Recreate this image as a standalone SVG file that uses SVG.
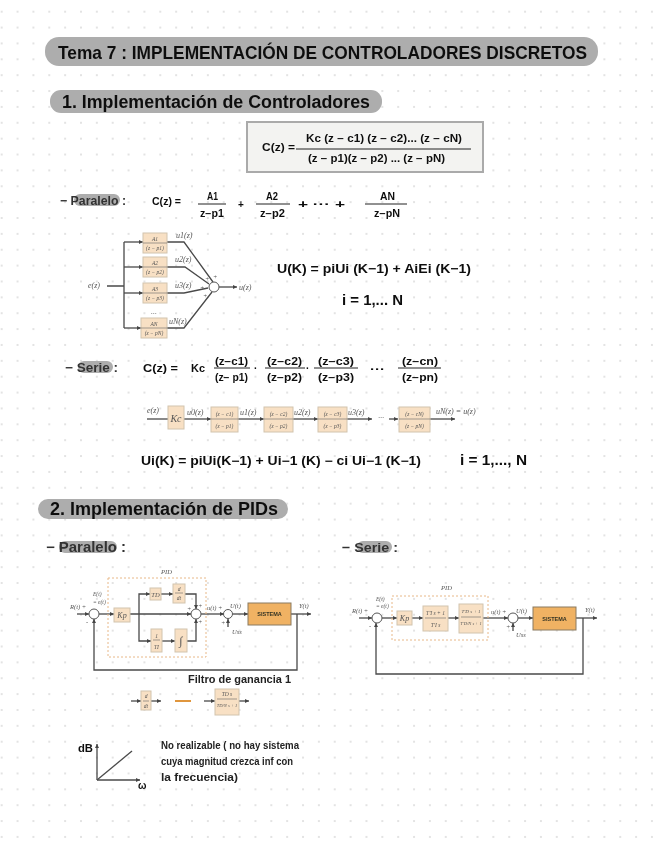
<svg xmlns="http://www.w3.org/2000/svg" width="656" height="848" viewBox="0 0 656 848">
<style>
.h{font-family:"Liberation Sans",sans-serif;fill:#111;font-weight:700}
.t{font-size:18.5px}
.s{font-size:18px}
.m{font-size:10px}
.g{font-size:10px;fill:#222}
.p{font-size:12.5px;fill:#333}
.l{font-family:"Liberation Serif",serif;font-style:italic;font-size:8px;fill:#555}
.e{font-family:"Liberation Serif",serif;font-style:italic;font-size:6.5px;fill:#555}
.b{font-family:"Liberation Serif",serif;font-style:italic;font-size:5.5px;fill:#555;text-anchor:middle}
.bx{fill:#f8e0c4;stroke:#d2c4ae;stroke-width:1}
.c{fill:none;stroke:#4a4a4a;stroke-width:1.3}
.k{fill:none;stroke:#222;stroke-width:1}
.hl{fill:#adadad}
.pn{fill:none;stroke:#666;stroke-width:.6}
.sys{fill:#f0b264;stroke:#8a7a60;stroke-width:1}
.dash{fill:none;stroke:#e8b888;stroke-width:1;stroke-dasharray:2 2}
.ss{font-family:"Liberation Sans",sans-serif;font-weight:700;font-size:5.5px;fill:#332;text-anchor:middle}
</style>
<defs>
<pattern id="dots" x="0.7" y="10.7" width="15.86" height="15.87" patternUnits="userSpaceOnUse"><circle cx="1" cy="1" r="1" fill="#dadada"/></pattern>
<marker id="a" markerWidth="6" markerHeight="6" refX="4" refY="2" orient="auto" markerUnits="userSpaceOnUse"><path d="M0 0L4 2L0 4z" fill="#444"/></marker>
<filter id="bl" x="0" y="0" width="656" height="848" filterUnits="userSpaceOnUse"><feGaussianBlur stdDeviation="0.55"/></filter>
</defs>
<rect width="656" height="848" fill="#fff"/>
<rect width="656" height="848" fill="url(#dots)"/>
<g filter="url(#bl)">
<g id="title"><rect class="hl" x="45" y="37" width="553" height="29" rx="14"/>
<text class="h t" x="58" y="59" textLength="529" lengthAdjust="spacingAndGlyphs">Tema 7 : IMPLEMENTACIÓN DE CONTROLADORES DISCRETOS</text></g>
<g id="section1"><rect class="hl" x="50" y="90" width="332" height="23" rx="11"/>
<text class="h s" x="62" y="108" textLength="308" lengthAdjust="spacingAndGlyphs">1. Implementación de Controladores</text></g>
<g id="formula"><rect x="247" y="122" width="236" height="50" fill="#f3f3f1" stroke="#aaa" stroke-width="2"/>
<text class="h m" x="262" y="151" textLength="33" lengthAdjust="spacingAndGlyphs">C(z) =</text>
<text class="h m" x="306" y="142" textLength="156" lengthAdjust="spacingAndGlyphs">Kc (z − c1) (z − c2)... (z − cN)</text>
<line class="k" x1="296" y1="149" x2="471" y2="149"/>
<text class="h m" x="308" y="162" textLength="137" lengthAdjust="spacingAndGlyphs">(z − p1)(z − p2) ... (z − pN)</text></g>
<g id="paralelo1"><rect class="hl" x="74" y="194" width="46" height="12" rx="6"/>
<text class="h p" x="60" y="204.500" textLength="66" lengthAdjust="spacingAndGlyphs">− Paralelo :</text></g>
<g id="eq-parallel">
<text class="h m" x="152" y="205" textLength="29" lengthAdjust="spacingAndGlyphs">C(z) =</text>
<text class="h m" x="207" y="200" textLength="11" lengthAdjust="spacingAndGlyphs">A1</text>
<line class="k" x1="198" y1="204" x2="226" y2="204"/>
<text class="h m" x="200" y="217" textLength="24" lengthAdjust="spacingAndGlyphs">z−p1</text>
<text class="h m" x="238" y="208">+</text>
<text class="h m" x="266" y="200" textLength="12" lengthAdjust="spacingAndGlyphs">A2</text>
<line class="k" x1="256" y1="204" x2="290" y2="204"/>
<text class="h m" x="260" y="217" textLength="25" lengthAdjust="spacingAndGlyphs">z−p2</text>
<text class="h m" x="298" y="208" textLength="47" lengthAdjust="spacingAndGlyphs">+ ··· +</text>
<text class="h m" x="380" y="200" textLength="15" lengthAdjust="spacingAndGlyphs">AN</text>
<line class="k" x1="365" y1="204" x2="407" y2="204"/>
<text class="h m" x="374" y="217" textLength="26" lengthAdjust="spacingAndGlyphs">z−pN</text></g>
<g id="connectors">
<path class="c" d="M107 286H124M124 242V328"/>
<path class="c" marker-end="url(#a)" d="M124 242H143"/><path class="c" marker-end="url(#a)" d="M124 267H143"/><path class="c" marker-end="url(#a)" d="M124 293H143"/><path class="c" marker-end="url(#a)" d="M124 328H141"/>
<path class="c" d="M167 242H184L213 282"/><path class="c" d="M167 267H185L209 284"/><path class="c" d="M167 293H184L208 288"/><path class="c" d="M167 328H184L212 292"/>
<path class="c" marker-end="url(#a)" d="M219 287H237"/>
<path class="c" d="M147 419H168"/><path class="c" marker-end="url(#a)" d="M184 419H211"/><path class="c" marker-end="url(#a)" d="M238 419H264"/><path class="c" marker-end="url(#a)" d="M293 419H318"/><path class="c" marker-end="url(#a)" d="M347 419H372"/><path class="c" marker-end="url(#a)" d="M389 419H398"/><path class="c" marker-end="url(#a)" d="M430 419H455"/>
<path class="c" marker-end="url(#a)" d="M77 614H89"/><path class="c" marker-end="url(#a)" d="M99 614H114"/><path class="c" marker-end="url(#a)" d="M130 614H191"/>
<path class="c" marker-end="url(#a)" d="M139 614V594H150"/><path class="c" marker-end="url(#a)" d="M161 594H173"/><path class="c" marker-end="url(#a)" d="M185 594H196V609"/>
<path class="c" marker-end="url(#a)" d="M139 614V641H151"/><path class="c" marker-end="url(#a)" d="M162 641H175"/><path class="c" marker-end="url(#a)" d="M187 641H196V619"/>
<path class="c" marker-end="url(#a)" d="M201 614H224"/><path class="c" marker-end="url(#a)" d="M233 614H248"/><path class="c" marker-end="url(#a)" d="M291 614H311"/>
<path class="c" marker-end="url(#a)" d="M297 614V670H94V619"/><path class="c" marker-end="url(#a)" d="M228 627V619"/>
<path class="c" marker-end="url(#a)" d="M359 618H372"/><path class="c" marker-end="url(#a)" d="M382 618H397"/><path class="c" marker-end="url(#a)" d="M412 618H423"/><path class="c" marker-end="url(#a)" d="M448 618H459"/><path class="c" marker-end="url(#a)" d="M483 618H508"/><path class="c" marker-end="url(#a)" d="M518 618H533"/><path class="c" marker-end="url(#a)" d="M576 618H597"/>
<path class="c" marker-end="url(#a)" d="M583 618V674H376V623"/><path class="c" marker-end="url(#a)" d="M513 631V623"/>
<path class="c" marker-end="url(#a)" d="M131 701H141"/><path class="c" marker-end="url(#a)" d="M151 701H161"/><path class="c" marker-end="url(#a)" d="M204 701H215"/><path class="c" marker-end="url(#a)" d="M239 701H249"/>
<path d="M175 701H191" fill="none" stroke="#e0963c" stroke-width="2"/>
<path d="M97 780V744" class="c" marker-end="url(#a)"/><path d="M97 780H140" class="c" marker-end="url(#a)"/><path d="M97 780L132 751" class="c"/>
</g>
<g id="par-blocks">
<g id="p1"><rect class="bx" x="143" y="233" width="24" height="20"/><line class="pn" x1="143" y1="243" x2="167" y2="243"/><text class="b" x="155" y="241">A1</text><text class="b" x="155" y="250">(z − p1)</text></g>
<g id="p2"><rect class="bx" x="143" y="257" width="24" height="20"/><line class="pn" x1="143" y1="267" x2="167" y2="267"/><text class="b" x="155" y="265">A2</text><text class="b" x="155" y="274">(z − p2)</text></g>
<g id="p3"><rect class="bx" x="143" y="283" width="24" height="20"/><line class="pn" x1="143" y1="293" x2="167" y2="293"/><text class="b" x="155" y="291">A3</text><text class="b" x="155" y="300">(z − p3)</text></g>
<g id="p4"><rect class="bx" x="141" y="318" width="26" height="20"/><line class="pn" x1="141" y1="328" x2="167" y2="328"/><text class="b" x="154" y="326">AN</text><text class="b" x="154" y="335">(z − pN)</text></g>
<circle id="sum-p" cx="214" cy="287" r="5" fill="#fff" stroke="#555"/>
<text class="l" x="88" y="288">e(z)</text><text class="l" x="239" y="290">u(z)</text>
<text class="l" x="176" y="238">u1(z)</text><text class="l" x="175" y="262">u2(z)</text><text class="l" x="175" y="288">u3(z)</text><text class="l" x="169" y="324">uN(z)</text>
<text class="l" x="151" y="314">...</text>
<text class="e" x="213" y="279">+</text><text class="e" x="205" y="281">+</text><text class="e" x="200" y="290">+</text><text class="e" x="203" y="298">+</text>
</g>
<g id="eq-uk"><text class="h" font-size="12.500" x="277" y="273" textLength="194" lengthAdjust="spacingAndGlyphs">U(K) =  piUi (K−1) +  AiEi (K−1)</text>
<text class="h" font-size="14" x="342" y="305" textLength="61" lengthAdjust="spacingAndGlyphs">i = 1,... N</text></g>
<g id="serie1"><rect class="hl" x="78" y="361" width="35" height="12" rx="6"/>
<text class="h p" x="65" y="371.500" textLength="53" lengthAdjust="spacingAndGlyphs">− Serie :</text></g>
<g id="eq-serie">
<text class="h m" x="143" y="372" textLength="35" lengthAdjust="spacingAndGlyphs">C(z) =</text>
<text class="h m" x="191" y="372" textLength="14" lengthAdjust="spacingAndGlyphs">Kc</text>
<text class="h m" x="215" y="365" textLength="33" lengthAdjust="spacingAndGlyphs">(z−c1)</text><line class="k" x1="214" y1="368" x2="250" y2="368"/><text class="h m" x="215" y="381" textLength="33" lengthAdjust="spacingAndGlyphs">(z− p1)</text>
<text class="h m" x="254" y="372">·</text>
<text class="h m" x="267" y="365" textLength="35" lengthAdjust="spacingAndGlyphs">(z−c2)</text><line class="k" x1="265" y1="368" x2="305" y2="368"/><text class="h m" x="267" y="381" textLength="35" lengthAdjust="spacingAndGlyphs">(z−p2)</text>
<text class="h m" x="306" y="372">·</text>
<text class="h m" x="318" y="365" textLength="36" lengthAdjust="spacingAndGlyphs">(z−c3)</text><line class="k" x1="314" y1="368" x2="358" y2="368"/><text class="h m" x="318" y="381" textLength="36" lengthAdjust="spacingAndGlyphs">(z−p3)</text>
<text class="h m" x="370" y="373" textLength="15" lengthAdjust="spacingAndGlyphs">···</text>
<text class="h m" x="402" y="365" textLength="36" lengthAdjust="spacingAndGlyphs">(z−cn)</text><line class="k" x1="398" y1="368" x2="441" y2="368"/><text class="h m" x="402" y="381" textLength="36" lengthAdjust="spacingAndGlyphs">(z−pn)</text></g>
<g id="ser-blocks">
<g id="kc"><rect class="bx" x="168" y="406" width="16" height="23"/><text class="b" style="font-size:10px" x="176" y="422">Kc</text></g>
<g id="s1"><rect class="bx" x="211" y="407" width="27" height="25"/><line class="pn" x1="211" y1="419" x2="238" y2="419"/><text class="b" x="224.500" y="416">(z − c1)</text><text class="b" x="224.500" y="428">(z − p1)</text></g>
<g id="s2"><rect class="bx" x="264" y="407" width="29" height="25"/><line class="pn" x1="264" y1="419" x2="293" y2="419"/><text class="b" x="278.500" y="416">(z − c2)</text><text class="b" x="278.500" y="428">(z − p2)</text></g>
<g id="s3"><rect class="bx" x="318" y="407" width="29" height="25"/><line class="pn" x1="318" y1="419" x2="347" y2="419"/><text class="b" x="332.500" y="416">(z − c3)</text><text class="b" x="332.500" y="428">(z − p3)</text></g>
<g id="s4"><rect class="bx" x="399" y="407" width="31" height="25"/><line class="pn" x1="399" y1="419" x2="430" y2="419"/><text class="b" x="414.500" y="416">(z − cN)</text><text class="b" x="414.500" y="428">(z − pN)</text></g>
<text class="l" x="147" y="413">e(z)</text><text class="l" x="187" y="415">u0(z)</text><text class="l" x="240" y="415">u1(z)</text><text class="l" x="294" y="415">u2(z)</text><text class="l" x="348" y="415">u3(z)</text><text class="l" x="378" y="420">···</text><text class="l" x="436" y="414">uN(z) = u(z)</text>
</g>
<g id="eq-ui"><text class="h" font-size="12" x="141" y="465" textLength="280" lengthAdjust="spacingAndGlyphs">Ui(K) =  piUi(K−1) + Ui−1 (K) − ci Ui−1 (K−1)</text>
<text class="h" font-size="14" x="460" y="465" textLength="67" lengthAdjust="spacingAndGlyphs">i = 1,..., N</text></g>
<g id="section2"><rect class="hl" x="38" y="499" width="250" height="20" rx="10"/>
<text class="h s" x="50" y="515" textLength="228" lengthAdjust="spacingAndGlyphs">2. Implementación de PIDs</text></g>
<g id="paralelo2"><rect class="hl" x="59" y="541" width="58" height="12" rx="6"/>
<text class="h p" style="font-size:14px" x="46" y="552" textLength="80" lengthAdjust="spacingAndGlyphs">− Paralelo :</text></g>
<g id="serie2"><rect class="hl" x="357" y="541" width="35" height="12" rx="6"/>
<text class="h p" style="font-size:13.500px" x="342" y="551.500" textLength="56" lengthAdjust="spacingAndGlyphs">− Serie :</text></g>
<g id="pid-par">
<rect class="dash" x="108" y="578" width="98" height="79"/>
<text class="e" x="161" y="574">PID</text>
<g id="kp"><rect class="bx" x="114" y="608" width="16" height="14"/><text class="b" style="font-size:8px" x="122" y="618">Kp</text></g>
<g id="td"><rect class="bx" x="150" y="588" width="11" height="12"/><text class="b" style="font-size:6.500px" x="155.500" y="597">TD</text></g>
<g id="ddt"><rect class="bx" x="173" y="584" width="12" height="19"/><line class="pn" x1="175" y1="593" x2="183" y2="593"/><text class="b" x="179" y="591">d</text><text class="b" x="179" y="600">dt</text></g>
<g id="ti"><rect class="bx" x="151" y="629" width="11" height="23"/><line class="pn" x1="153" y1="640" x2="160" y2="640"/><text class="b" x="156.500" y="638">1</text><text class="b" x="156.500" y="649">TI</text></g>
<g id="int"><rect class="bx" x="175" y="629" width="12" height="23"/><text class="b" style="font-size:12px" x="181" y="645">∫</text></g>
<circle cx="94" cy="614" r="5" fill="#fff" stroke="#555"/><circle cx="196" cy="614" r="5" fill="#fff" stroke="#555"/><circle cx="228" cy="614" r="4.500" fill="#fff" stroke="#555"/>
<g id="sys-par"><rect class="sys" x="248" y="603" width="43" height="22"/><text class="ss" x="269.500" y="616">SISTEMA</text></g>
<text class="e" x="70" y="609">R(t) +</text><text class="e" style="font-size:5.500px" x="93" y="596">E(t)</text><text class="e" style="font-size:5.500px" x="93" y="604">= e(t)</text>
<text class="e" x="187" y="611">+</text><text class="e" x="198" y="608">+</text><text class="e" x="198" y="624">+</text>
<text class="e" x="207" y="610">u(t) +</text><text class="e" x="230" y="608">U(t)</text><text class="e" x="299" y="608">Y(t)</text><text class="e" x="86" y="624">-</text><text class="e" x="221" y="625">+</text><text class="e" x="232" y="634">Uss</text>
</g>
<g id="pid-ser">
<rect class="dash" x="392" y="596" width="96" height="44"/>
<text class="e" x="441" y="590">PID</text>
<g id="kp2"><rect class="bx" x="397" y="611" width="15" height="14"/><text class="b" style="font-size:8px" x="404.500" y="621">Kp</text></g>
<g id="b2"><rect class="bx" x="423" y="606" width="25" height="25"/><line class="pn" x1="425" y1="618" x2="446" y2="618"/><text class="b" x="435.500" y="615">T'I s + 1</text><text class="b" x="435.500" y="627">T'I s</text></g>
<g id="b3"><rect class="bx" x="459" y="604" width="24" height="29"/><line class="pn" x1="461" y1="617" x2="481" y2="617"/><text class="b" style="font-size:5px" x="471" y="613">T'D s + 1</text><text class="b" style="font-size:4.500px" x="471" y="625">T'D/N s + 1</text></g>
<circle cx="377" cy="618" r="5" fill="#fff" stroke="#555"/><circle cx="513" cy="618" r="5" fill="#fff" stroke="#555"/>
<g id="sys-ser"><rect class="sys" x="533" y="607" width="43" height="23"/><text class="ss" x="554.500" y="621">SISTEMA</text></g>
<text class="e" x="352" y="613">R(t) +</text><text class="e" style="font-size:5.500px" x="376" y="601">E(t)</text><text class="e" style="font-size:5.500px" x="376" y="608">= e(t)</text>
<text class="e" x="491" y="614">u(t) +</text><text class="e" x="516" y="613">U(t)</text><text class="e" x="585" y="612">Y(t)</text><text class="e" x="369" y="628">-</text><text class="e" x="506" y="629">+</text><text class="e" x="516" y="637">Uss</text>
</g>
<g id="filtro"><text class="h g" x="188" y="683" textLength="103" lengthAdjust="spacingAndGlyphs">Filtro de ganancia 1</text>
<g id="f1"><rect class="bx" x="141" y="691" width="10" height="19"/><line class="pn" x1="143" y1="701" x2="149" y2="701"/><text class="b" x="146" y="698">d</text><text class="b" x="146" y="708">dt</text></g>
<g id="f2"><rect class="bx" x="215" y="689" width="24" height="26"/><line class="pn" x1="217" y1="699" x2="237" y2="699"/><text class="b" x="227" y="696">TD s</text><text class="b" style="font-size:4.500px" x="227" y="707">TD/N s + 1</text></g></g>
<g id="bode"><text class="h" font-size="11" x="78" y="752" textLength="15" lengthAdjust="spacingAndGlyphs">dB</text>
<text class="h" font-size="10" x="138" y="789">ω</text></g>
<g id="nota">
<text class="h g" x="161" y="749" textLength="138" lengthAdjust="spacingAndGlyphs">No realizable ( no hay sistema</text>
<text class="h g" x="161" y="765" textLength="132" lengthAdjust="spacingAndGlyphs">cuya magnitud crezca inf con</text>
<text class="h g" x="161" y="781" textLength="77" lengthAdjust="spacingAndGlyphs">la frecuencia)</text></g>
</g>
</svg>
